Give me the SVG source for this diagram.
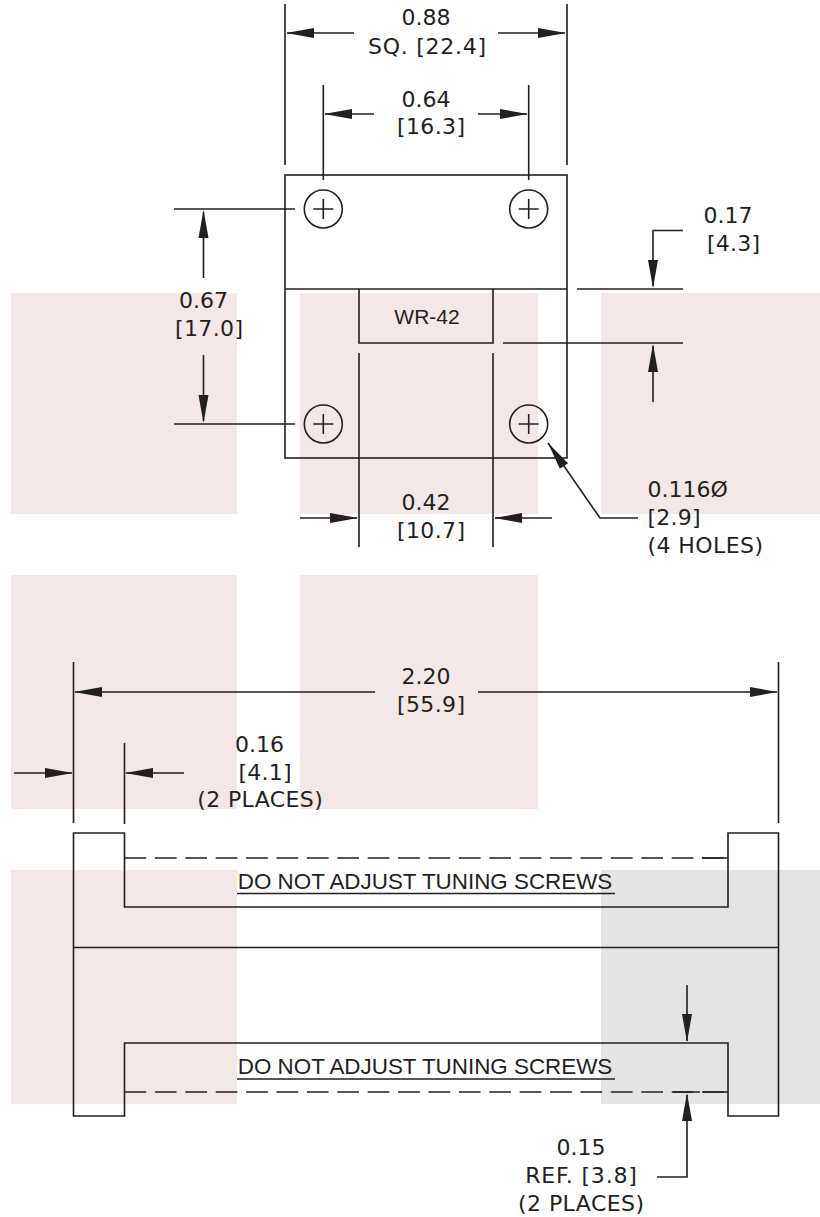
<svg xmlns="http://www.w3.org/2000/svg" width="820" height="1217" viewBox="0 0 820 1217">
<style>
.p{fill:#f4e7e7}.g{fill:#e4e4e4}
.l{fill:none;stroke:#231f20;stroke-width:1.6}
.t{font-family:"DejaVu Sans",sans-serif;font-size:22px;fill:#231f20;text-anchor:middle}
.b{text-anchor:start}
.s{font-family:"Liberation Sans",Arial,sans-serif;font-size:21px;fill:#231f20;text-anchor:middle}
.u{font-size:22.4px}
.a{fill:#231f20;stroke:none}
</style>
<defs>
<path id="ar" class="a" d="M0 0L-28-5V5Z"/>
</defs>
<g id="background">
<rect class="p" x="11" y="293" width="226" height="221"/>
<rect class="p" x="300" y="293" width="238" height="221"/>
<rect class="p" x="601" y="293" width="219" height="221"/>
<rect class="p" x="11" y="575" width="226" height="234"/>
<rect class="p" x="300" y="575" width="238" height="234"/>
<rect class="p" x="11" y="870" width="226" height="234"/>
<rect class="g" x="601" y="870" width="219" height="234"/>
</g>
<g id="top-view">
<rect class="l" x="285" y="175" width="282" height="283"/>
<path class="l" d="M285 289H567M359 289V343H493V289"/>
</g>
<g id="hole-1"><circle class="l" cx="323.300" cy="209" r="19"/><path class="l" d="M313.300 209H333.300M323.300 199V219"/></g>
<g id="hole-2"><circle class="l" cx="528.700" cy="209" r="19"/><path class="l" d="M518.700 209H538.700M528.700 199V219"/></g>
<g id="hole-3"><circle class="l" cx="323.300" cy="424" r="19"/><path class="l" d="M313.300 424H333.300M323.300 414V434"/></g>
<g id="hole-4"><circle class="l" cx="528.700" cy="424" r="19"/><path class="l" d="M518.700 424H538.700M528.700 414V434"/></g>
<g id="side-view">
<path class="l" d="M73.500 833H124.500V907H728V833H778.500V1116H728V1043H124.500V1116H73.500ZM73.500 947.500H778.500"/>
<path class="l" stroke-dasharray="21.700 8.700" d="M124.500 858H728M124.500 1092H728"/>
<path class="l" d="M702 858H728M673 1092H700M703 1092H728"/>
<path class="l" d="M237 893.500H615M237 1079H615"/>
</g>
<g id="connectors">
<path class="l" d="M285 4V165M567 4V165M287 33H354M498 33H565M323.300 85V180M528.700 85V180M325 114H374M478 114H527M174 209H295M174 424H295M203.500 212V278M203.500 355V421M577 289H683M503 343H683M683 230.500H653V286M653 346V402M359 353V547M493 353V547M300 518H357M495 518H552M548 443L600 518H638M73.500 662V823M778.500 662V823M75 692H375M478 692H777M124.500 743V824M14 773H72M126 773H184M687 985V1041M687 1095V1177H657"/>
<use href="#ar" transform="translate(286,33) rotate(180)"/>
<use href="#ar" transform="translate(566,33)"/>
<use href="#ar" transform="translate(324,114) rotate(180)"/>
<use href="#ar" transform="translate(528,114)"/>
<use href="#ar" transform="translate(203.500,210) rotate(-90)"/>
<use href="#ar" transform="translate(203.500,423) rotate(90)"/>
<use href="#ar" transform="translate(653,288) rotate(90)"/>
<use href="#ar" transform="translate(653,344) rotate(-90)"/>
<use href="#ar" transform="translate(358,518)"/>
<use href="#ar" transform="translate(494,518) rotate(180)"/>
<use href="#ar" transform="translate(548,443) rotate(235.300)"/>
<use href="#ar" transform="translate(74,692) rotate(180)"/>
<use href="#ar" transform="translate(778,692)"/>
<use href="#ar" transform="translate(73,773)"/>
<use href="#ar" transform="translate(125,773) rotate(180)"/>
<use href="#ar" transform="translate(687,1042) rotate(90)"/>
<use href="#ar" transform="translate(687,1093) rotate(-90)"/>
</g>
<g id="labels">
<text class="t" x="426" y="25">0.88</text>
<text class="t" x="427" y="54" textLength="118">SQ. [22.4]</text>
<text class="t" x="426" y="106.500">0.64</text>
<text class="t" x="431" y="134" textLength="68">[16.3]</text>
<text class="t" x="203.500" y="308">0.67</text>
<text class="t" x="209" y="335.500" textLength="68">[17.0]</text>
<text class="t" x="728" y="222.500">0.17</text>
<text class="t" x="733.500" y="251" textLength="53">[4.3]</text>
<text class="s" x="427" y="324">WR-42</text>
<text class="t" x="426" y="510">0.42</text>
<text class="t" x="431" y="538" textLength="68">[10.7]</text>
<text class="t b" x="647.500" y="497">0.116Ø</text>
<text class="t b" x="647.500" y="524.500" textLength="53">[2.9]</text>
<text class="t b" x="647.500" y="552.500" textLength="115.500">(4 HOLES)</text>
<text class="t" x="426" y="684">2.20</text>
<text class="t" x="431" y="712" textLength="68">[55.9]</text>
<text class="t" x="259.500" y="751.500">0.16</text>
<text class="t" x="265" y="779.500" textLength="53">[4.1]</text>
<text class="t" x="260" y="807" textLength="125.500">(2 PLACES)</text>
<text class="s u" x="425" y="889">DO NOT ADJUST TUNING SCREWS</text>
<text class="s u" x="425" y="1074">DO NOT ADJUST TUNING SCREWS</text>
<text class="t" x="581" y="1155">0.15</text>
<text class="t" x="581" y="1182.500" textLength="111.700">REF. [3.8]</text>
<text class="t" x="581" y="1210.500" textLength="126">(2 PLACES)</text>
</g>
</svg>
